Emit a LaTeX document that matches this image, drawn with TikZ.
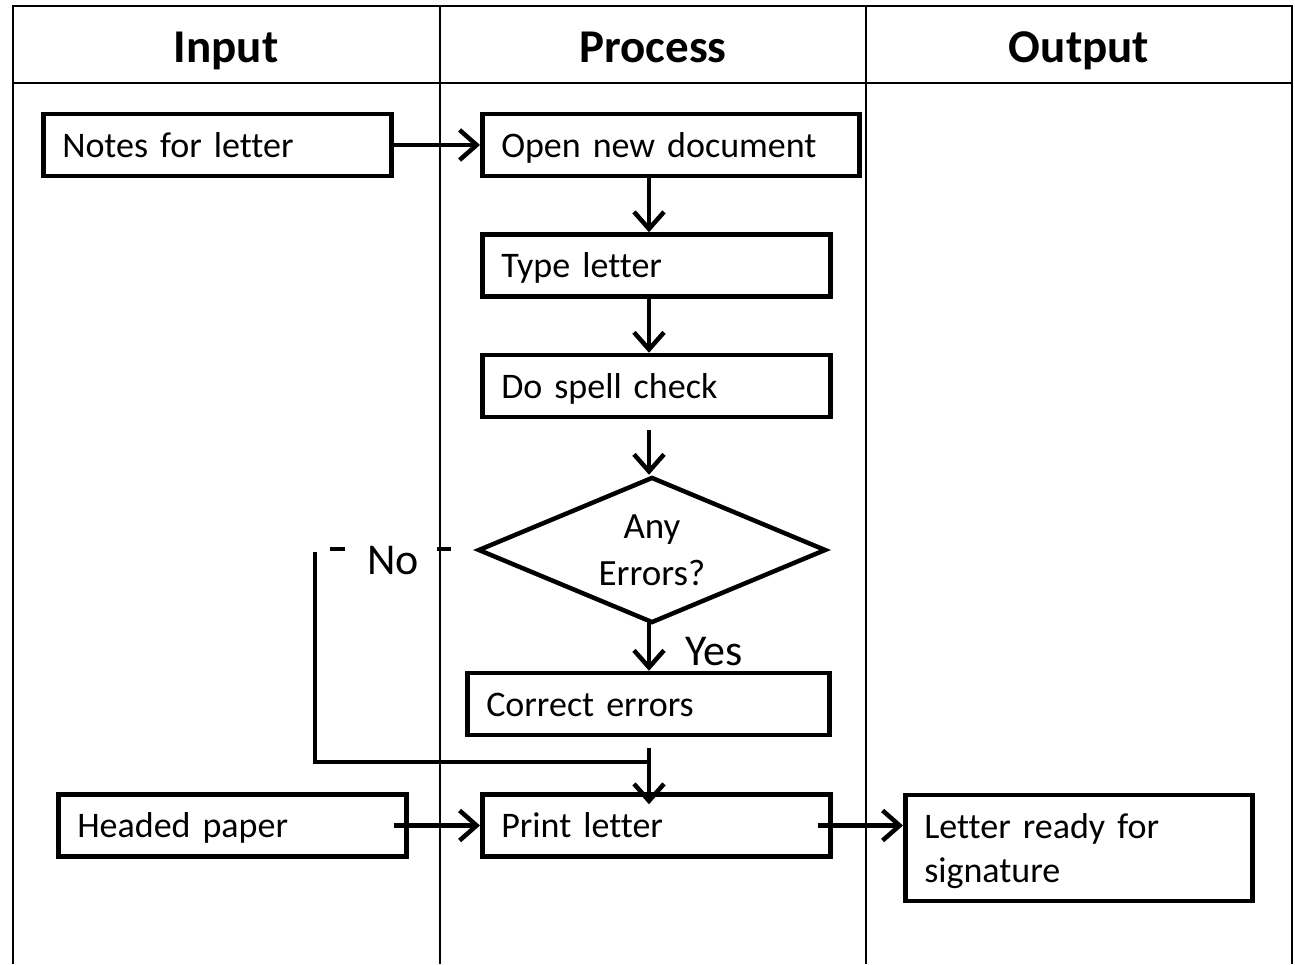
\documentclass[tikz,border=0pt]{standalone}
\usepackage{fontspec}
\setmainfont{Carlito}[Ligatures=NoCommon]
\usetikzlibrary{arrows.meta,shapes.geometric}

\begin{document}
\begin{tikzpicture}[x=1pt, y=-1pt,
	box/.style={draw, line width=4.5pt, anchor=west, inner xsep=19pt, inner ysep=0pt, minimum height=62pt, text width=#1, align=left, font=\fontsize{36}{44}\selectfont, execute at begin node={\rule{0pt}{34pt}}, execute at end node={\rule[-10pt]{0pt}{10pt}}},
	box/.default=310pt,
	link/.style={line width=4.5pt, -{Straight Barb[length=17pt,width=30pt]}},
	wire/.style={line width=4.5pt},
	rule/.style={line width=1.8pt},
	head/.style={anchor=base, font=\fontsize{47}{56}\selectfont\bfseries},
	tag/.style={anchor=base, font=\fontsize{44}{52}\selectfont}]
	\useasboundingbox (0,0) rectangle (1295,964);
	% the three lanes
	\draw[rule] (13,964) -- (13,6) -- (1292,6) -- (1292,964);
	\draw[rule] (13,83) -- (1292,83);
	\draw[rule] (440,6) -- (440,964);
	\draw[rule] (866,6) -- (866,964);
	\node[head] (hinput) at (226,62) {Input};
	\node[head] (hprocess) at (653,62) {Process};
	\node[head] (houtput) at (1079,62) {Output};
	% steps
	\node[box] (notes) at (41,145) {Notes for letter};
	\node[box=339pt] (open) at (480,145) {Open new document};
	\node[box] (type) at (480,265.5) {Type letter};
	\node[box] (spell) at (480,386) {Do spell check};
	\node[draw, diamond, line width=4.5pt, aspect=2.33, minimum width=348pt, minimum height=146pt, inner sep=0pt, align=center, font=\fontsize{37}{47}\selectfont] (errors) at (652,550) {Any\\Errors?};
	\node[box=324pt] (correct) at (465,704) {Correct errors};
	\node[box] (headed) at (56,825.5) {Headed paper};
	\node[box] (print) at (480,825.5) {Print letter};
	\node[box=309pt, minimum height=106pt] (ready) at (903,848) {Letter ready for signature};
	\node[tag] (no) at (393,574) {No};
	\node[tag] (yes) at (714,665) {Yes};
	\coordinate (spine) at (649,0);
	\coordinate (nostart) at (315,552);
	\coordinate (bend) at (315,762);
	\coordinate (merge) at (649,748);
	% flow
	\draw[link] (notes.east) -- (open.west);
	\draw[link] (open.south -| spine) -- (type.north -| spine);
	\draw[link] (type.south -| spine) -- (spell.north -| spine);
	\draw[link] ([yshift=-11pt]spell.south -| spine) -- (errors.north -| spine);
	\draw[link] ([yshift=5pt]errors.south -| spine) -- (correct.north -| spine);
	\draw[wire] (330,549) -- (345,549);
	\draw[wire] (437,549) -- (451,549);
	\draw[wire] (nostart) -- (bend) -- (bend -| merge);
	\draw[link] (merge) -- ([yshift=-12pt]print.north -| merge);
	\draw[link] ([xshift=-15pt]headed.east) -- (print.west);
	\draw[link] ([xshift=-15pt]print.east) -- (print.east -| ready.west);
\end{tikzpicture}
\end{document}
